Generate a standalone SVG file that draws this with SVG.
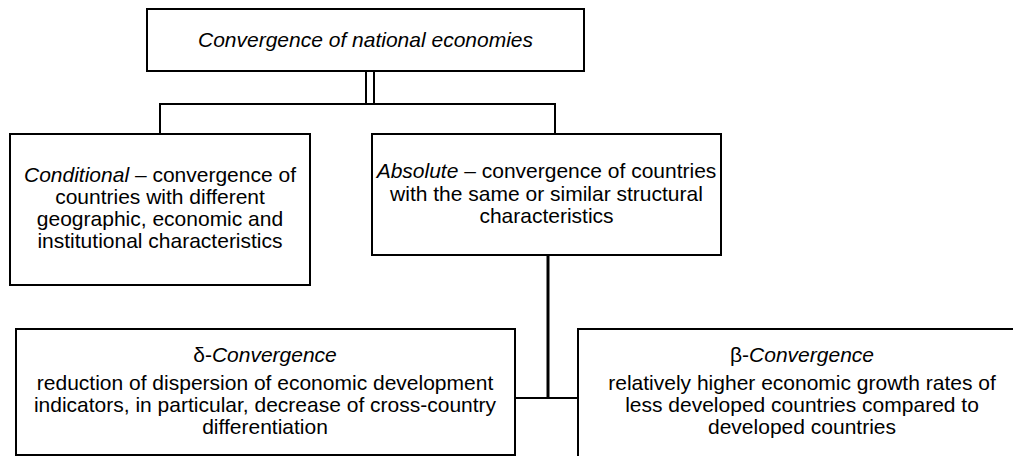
<svg xmlns="http://www.w3.org/2000/svg" width="1013" height="456" viewBox="0 0 1013 456">
  <style>
    .box { fill: #ffffff; stroke: #000000; stroke-width: 2; }
    .wire { fill: none; stroke: #000000; stroke-width: 2; }
    .thick { stroke-width: 3; }
    text { font-family: "Liberation Sans", Arial, sans-serif; font-size: 21px; fill: #000000; text-anchor: middle; }
    .it { font-style: italic; }
  </style>
  <rect width="1013" height="456" fill="#ffffff"/>

  <!-- connectors -->
  <g id="connectors">
    <line class="wire" x1="366" y1="71" x2="366" y2="104" stroke-width="1.6"/>
    <line class="wire" x1="374" y1="71" x2="374" y2="104" stroke-width="1.6"/>
    <polyline class="wire" points="160,134 160,104 555,104 555,134"/>
    <line class="wire thick" x1="548" y1="255" x2="548" y2="398"/>
    <line class="wire" x1="515" y1="398" x2="578" y2="398"/>
  </g>

  <!-- root -->
  <g id="root">
    <rect class="box" x="147" y="9" width="437" height="62"/>
    <text x="365.5" y="47" class="it">Convergence of national economies</text>
  </g>

  <!-- conditional convergence -->
  <g id="conditional">
    <rect class="box" x="10" y="134" width="300" height="151"/>
    <text x="160" y="182"><tspan class="it">Conditional</tspan> – convergence of</text>
    <text x="160" y="204">countries with different</text>
    <text x="160" y="226">geographic, economic and</text>
    <text x="160" y="248">institutional characteristics</text>
  </g>

  <!-- absolute convergence -->
  <g id="absolute">
    <rect class="box" x="372" y="134" width="349" height="121"/>
    <text x="546.5" y="178"><tspan class="it">Absolute</tspan> – convergence of countries</text>
    <text x="546.5" y="200.5">with the same or similar structural</text>
    <text x="546.5" y="223">characteristics</text>
  </g>

  <!-- delta convergence -->
  <g id="delta">
    <rect class="box" x="16" y="329" width="499" height="126"/>
    <text x="265" y="362">δ-<tspan class="it">Convergence</tspan></text>
    <text x="265" y="390">reduction of dispersion of economic development</text>
    <text x="265" y="412">indicators, in particular, decrease of cross-country</text>
    <text x="265" y="434">differentiation</text>
  </g>

  <!-- beta convergence -->
  <g id="beta">
    <rect class="box" x="578" y="329" width="460" height="140"/>
    <text x="802" y="362">β-<tspan class="it">Convergence</tspan></text>
    <text x="802" y="390">relatively higher economic growth rates of</text>
    <text x="802" y="412">less developed countries compared to</text>
    <text x="802" y="434">developed countries</text>
  </g>
</svg>
